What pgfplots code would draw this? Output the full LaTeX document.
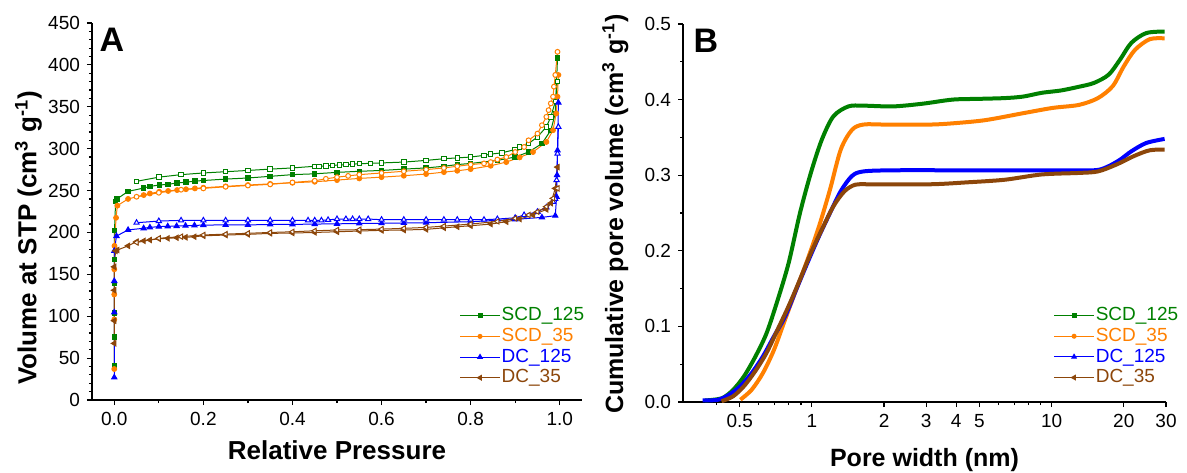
\documentclass[border=0pt]{standalone}
\usepackage{fontspec}
\setmainfont{Liberation Sans}
\usepackage{pgfplots}
\pgfplotsset{compat=1.18}
\definecolor{cg}{RGB}{0,128,0}
\definecolor{co}{RGB}{255,128,0}
\definecolor{cb}{RGB}{0,0,255}
\definecolor{cr}{RGB}{140,70,10}
\begin{document}
\begin{tikzpicture}
\useasboundingbox (0,0) rectangle (593.5pt,236pt);
\pgfplotsset{
 myax/.style={scale only axis, anchor=south west,
  axis x line*=bottom, axis y line*=left,
  axis line style={line width=0.7pt},
  tick align=outside, major tick length=2.5pt, minor tick length=1.5pt,
  every tick/.style={line width=0.6pt, black},
  tick label style={font=\fontsize{9.5}{11}\selectfont},
  /pgf/number format/assume math mode=true,
  legend style={draw=none, fill=none, font=\fontsize{9.5}{11}\selectfont, row sep=1pt, nodes={inner sep=0.6pt}},
  legend cell align=left,
  legend image code/.code={\draw[mark repeat=2,mark phase=2,##1] plot coordinates {(0pt,0pt) (10pt,0pt) (20pt,0pt)};},
 },
 la/.style={cg, line width=0.5pt, mark size=1.1pt, mark=square*},
 lo/.style={co, line width=0.5pt, mark size=1.2pt, mark=*},
 lb/.style={cb, line width=0.5pt, mark size=1.5pt, mark=triangle*},
 lr/.style={cr, line width=0.5pt, mark size=1.5pt, mark=triangle*, mark options={rotate=90}},
}
% ---------------- Panel A ----------------
\begin{axis}[myax, at={(46pt,36pt)}, width=245pt, height=188.5pt,
  xmin=-0.05, xmax=1.05, ymin=0, ymax=450,
  xtick={0,0.2,0.4,0.6,0.8,1.0}, minor x tick num=1,
  ytick={0,50,100,150,200,250,300,350,400,450}, minor y tick num=4,
  xticklabel style={/pgf/number format/.cd, fixed, fixed zerofill, precision=1},
  xlabel={Relative Pressure}, ylabel={Volume at STP (cm\textsuperscript{3} g\textsuperscript{-1})},
  xlabel style={at={(axis description cs:0.5,-0.1326)}, anchor=center, font=\bfseries\fontsize{13}{15}\selectfont},
  ylabel style={at={(axis description cs:-0.13,0.43)}, anchor=center, font=\bfseries\fontsize{13}{15}\selectfont},
  legend style={at={(0.737,0.26)}, anchor=north west}]
\addlegendimage{cg, line width=0.5pt, mark=square*, mark size=1pt}\addlegendentry{\textcolor{cg}{SCD\_125}}
\addlegendimage{co, line width=0.5pt, mark=*, mark size=1pt}\addlegendentry{\textcolor{co}{SCD\_35}}
\addlegendimage{cb, line width=0.5pt, mark=triangle*, mark size=1.3pt}\addlegendentry{\textcolor{cb}{DC\_125}}
\addlegendimage{cr, line width=0.5pt, mark=triangle*, mark size=1.3pt, mark options={rotate=90}}\addlegendentry{\textcolor{cr}{DC\_35}}
% SCD_125 adsorption
\addplot[la, forget plot] coordinates {(0.0,41) (0.0,75) (0.0,104) (0.0,139) (0.0,168) (0.0005,202) (0.003,237) (0.006,240) (0.031,249) (0.066,253) (0.08,255) (0.101,256.6) (0.121,257.5) (0.141,259) (0.161,260) (0.181,261.3) (0.2,262) (0.25,263.7) (0.30,265) (0.35,267) (0.40,269) (0.45,270) (0.50,271.7) (0.55,273) (0.60,274) (0.65,275.6) (0.70,277) (0.74,279) (0.77,281) (0.80,282.4) (0.86,286) (0.90,290) (0.93,296) (0.96,306) (0.98,322) (0.99,342) (0.995,408)};
% SCD_125 desorption
\addplot[la, forget plot, mark options={fill=white}] coordinates {(0.995,380) (0.99,356) (0.98,338) (0.97,326) (0.95,314) (0.93,306) (0.91,302) (0.90,299) (0.87,295) (0.845,293.5) (0.83,292) (0.80,290) (0.77,289) (0.74,288) (0.70,286) (0.65,284) (0.60,283) (0.575,282.5) (0.55,282) (0.535,281.5) (0.52,281) (0.505,280.5) (0.49,280) (0.475,279.5) (0.46,279) (0.45,279) (0.40,277) (0.35,275.6) (0.30,274) (0.25,272.5) (0.20,271) (0.15,269) (0.10,266) (0.05,261)};
% SCD_35 adsorption
\addplot[lo, forget plot] coordinates {(0.0,37) (0.0,96) (0.0,126) (0.0,156) (0.0005,184) (0.004,217.5) (0.007,232) (0.031,240) (0.066,244.6) (0.08,246.5) (0.101,248.6) (0.121,249.5) (0.141,250.6) (0.161,251.6) (0.181,252.6) (0.2,253.4) (0.25,255) (0.3,256.6) (0.35,258) (0.4,259.3) (0.45,260.5) (0.5,262.5) (0.55,264.5) (0.6,266) (0.65,267.7) (0.7,269.7) (0.74,272) (0.77,273.6) (0.8,275.6) (0.845,279.6) (0.88,284) (0.91,289.6) (0.94,296) (0.97,308) (0.985,322) (0.992,342) (0.995,362) (0.997,388)};
% SCD_35 desorption
\addplot[lo, forget plot, mark options={fill=white}] coordinates {(0.995,415.6) (0.99,388) (0.987,374) (0.985,362) (0.98,354) (0.975,346) (0.97,338) (0.96,328) (0.95,318) (0.93,310) (0.92,302) (0.90,296) (0.88,290) (0.86,287) (0.845,284) (0.83,282.4) (0.80,281) (0.77,279) (0.74,277) (0.70,275) (0.65,273) (0.60,271) (0.55,269) (0.525,267.5) (0.5,266) (0.475,264) (0.45,261.7) (0.4,259.7) (0.35,257.4) (0.3,256) (0.25,254.5) (0.2,252.6) (0.15,251) (0.1,247.4) (0.05,242.6)};
% DC_125 adsorption
\addplot[lb, forget plot] coordinates {(0.0,27) (0.0,104.6) (0.0,142) (0.0,178) (0.005,195.7) (0.031,203) (0.066,205) (0.08,206) (0.1,207) (0.12,207.3) (0.14,207.6) (0.16,208) (0.18,208.4) (0.2,208.8) (0.25,209) (0.3,209) (0.35,209.5) (0.4,209.6) (0.45,210) (0.5,210.3) (0.55,210.7) (0.6,211) (0.65,211.3) (0.7,211.6) (0.8,212.8) (0.9,215.6) (0.96,218) (0.99,220) (0.993,242.6) (0.994,268.5) (0.995,298) (0.997,355)};
% DC_125 desorption
\addplot[lb, forget plot, mark options={fill=white}] coordinates {(0.997,326) (0.995,294) (0.993,262.5) (0.99,240) (0.985,236.6) (0.97,230) (0.95,224.7) (0.92,220.8) (0.90,217.5) (0.86,216) (0.83,215.2) (0.80,215.2) (0.77,215.2) (0.74,215.2) (0.70,215.2) (0.65,215.2) (0.60,215.2) (0.57,216) (0.55,216) (0.535,216) (0.52,216) (0.5,216) (0.48,215) (0.465,214.4) (0.45,214.4) (0.435,214.4) (0.4,214.4) (0.35,214.4) (0.3,214.4) (0.25,214.4) (0.2,214.4) (0.15,214.4) (0.1,213.6) (0.05,211.6)};
% DC_35 adsorption
\addplot[lr, forget plot] coordinates {(0.0,67.6) (0.0,94.6) (0.0,131) (0.0,159) (0.003,178) (0.007,179) (0.031,184) (0.05,189) (0.066,190) (0.08,191) (0.1,192.5) (0.12,193) (0.14,193.7) (0.16,194.2) (0.18,194.9) (0.2,196) (0.25,196.9) (0.3,197.7) (0.35,198.9) (0.4,199.3) (0.45,200) (0.5,200.8) (0.55,201.7) (0.6,202.5) (0.65,202.9) (0.7,203.7) (0.74,205.5) (0.77,206.8) (0.8,208) (0.845,210) (0.88,212.8) (0.91,216) (0.94,220.8) (0.97,227.5) (0.98,235) (0.99,252.6) (0.995,278)};
% DC_35 desorption
\addplot[lr, forget plot, mark options={fill=white, rotate=90}] coordinates {(0.995,252.6) (0.985,240.7) (0.97,230.7) (0.95,224.7) (0.93,220.8) (0.9,216.8) (0.86,213.2) (0.8,210) (0.74,207.6) (0.7,206) (0.65,204.9) (0.6,204) (0.55,203.3) (0.5,202.9) (0.45,202) (0.4,200.8) (0.35,200) (0.3,199) (0.25,198) (0.2,197) (0.15,195) (0.1,193) (0.05,188)};
\end{axis}
\node[font=\bfseries\fontsize{17}{20}\selectfont] at (56pt,216pt) {A};
% ---------------- Panel B ----------------
\begin{axis}[myax, xmode=log, at={(341.5pt,35pt)}, width=241.5pt, height=189pt,
  xmin=0.29, xmax=30, ymin=0, ymax=0.5,
  xtick={0.5,1,2,3,4,5,10,20,30}, xticklabels={0.5,1,2,3,4,5,10,20,30},
  minor xtick={0.4,0.6,0.7,0.8,0.9,6,7,8,9},
  ytick={0,0.1,0.2,0.3,0.4,0.5}, minor y tick num=1,
  yticklabel style={/pgf/number format/.cd, fixed, fixed zerofill, precision=1},
  xlabel={Pore width (nm)}, ylabel={Cumulative pore volume (cm\textsuperscript{3} g\textsuperscript{-1})},
  xlabel style={at={(axis description cs:0.5,-0.153)}, anchor=center, font=\bfseries\fontsize{12.5}{15}\selectfont},
  ylabel style={at={(axis description cs:-0.14,0.497)}, anchor=center, font=\bfseries\fontsize{12.5}{15}\selectfont},
  legend style={at={(0.754,0.265)}, anchor=north west}]
\addlegendimage{cg, line width=0.5pt, mark=square*, mark size=1pt}\addlegendentry{\textcolor{cg}{SCD\_125}}
\addlegendimage{co, line width=0.5pt, mark=*, mark size=1pt}\addlegendentry{\textcolor{co}{SCD\_35}}
\addlegendimage{cb, line width=0.5pt, mark=triangle*, mark size=1.3pt}\addlegendentry{\textcolor{cb}{DC\_125}}
\addlegendimage{cr, line width=0.5pt, mark=triangle*, mark size=1.3pt, mark options={rotate=90}}\addlegendentry{\textcolor{cr}{DC\_35}}
\addplot[cg, line width=2pt, smooth, tension=0.5, forget plot] coordinates {(0.358,0.002) (0.421,0.005) (0.469,0.016) (0.521,0.034) (0.581,0.060) (0.647,0.091) (0.72,0.135) (0.80,0.184) (0.892,0.25) (0.99,0.303) (1.1,0.347) (1.23,0.378) (1.42,0.391) (1.64,0.392) (2.18,0.391) (2.9,0.3946) (3.86,0.400) (4.96,0.401) (6.37,0.402) (7.6,0.404) (9.1,0.409) (10.9,0.412) (13,0.417) (15,0.422) (17.3,0.433) (19.3,0.453) (21.5,0.475) (24.8,0.488) (29.6,0.490)};
\addplot[co, line width=2pt, smooth, tension=0.5, forget plot] coordinates {(0.503,0.003) (0.56,0.016) (0.624,0.038) (0.695,0.069) (0.773,0.109) (0.861,0.149) (0.958,0.188) (1.07,0.232) (1.19,0.281) (1.32,0.334) (1.47,0.360) (1.64,0.367) (2.03,0.367) (3.12,0.367) (4.0,0.369) (5.33,0.373) (7.6,0.382) (10.1,0.389) (13,0.393) (15.6,0.402) (18,0.418) (20,0.444) (22.3,0.466) (25.7,0.480) (29.6,0.481)};
\addplot[cb, line width=2pt, smooth, tension=0.5, forget plot] coordinates {(0.35,0.002) (0.406,0.003) (0.452,0.0097) (0.503,0.021) (0.56,0.038) (0.624,0.060) (0.695,0.087) (0.773,0.113) (0.861,0.149) (0.958,0.184) (1.07,0.219) (1.19,0.25) (1.32,0.279) (1.47,0.299) (1.64,0.305) (2.2,0.3065) (4.46,0.3065) (13,0.3065) (15.6,0.307) (17.3,0.312) (19.3,0.3205) (21.5,0.3316) (24.8,0.3426) (29.6,0.348)};
\addplot[cr, line width=2pt, smooth, tension=0.5, forget plot] coordinates {(0.42,0.001) (0.469,0.0075) (0.521,0.021) (0.581,0.041) (0.647,0.065) (0.72,0.096) (0.80,0.127) (0.892,0.162) (0.99,0.197) (1.1,0.228) (1.23,0.259) (1.37,0.279) (1.52,0.2875) (1.76,0.288) (3.12,0.288) (4.46,0.2906) (6.37,0.294) (9.1,0.301) (13,0.303) (15.6,0.305) (18.6,0.314) (22.3,0.326) (25.7,0.333) (29.6,0.334)};
\end{axis}
\node[font=\bfseries\fontsize{17}{20}\selectfont] at (353pt,215.5pt) {B};
\end{tikzpicture}
\end{document}
